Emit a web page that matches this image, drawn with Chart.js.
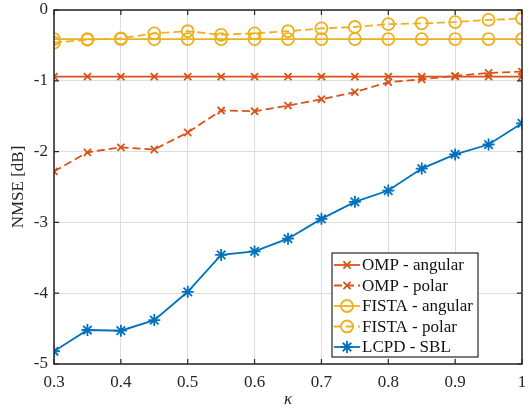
<!DOCTYPE html>
<html>
<head>
<meta charset="utf-8">
<script src="https://cdn.jsdelivr.net/npm/chart.js@4.4.1/dist/chart.umd.min.js"></script>
<style>
  html, body { margin: 0; padding: 0; background: #fff; }
</style>
</head>
<body>
<canvas id="nmseChart" width="530" height="411"></canvas>
<script>
// *data
const kappa = [0.3, 0.35, 0.4, 0.45, 0.5, 0.55, 0.6, 0.65, 0.7, 0.75, 0.8, 0.85, 0.9, 0.95, 1];
const ompAngular = [-0.94, -0.94, -0.94, -0.94, -0.94, -0.94, -0.94, -0.94, -0.94, -0.94, -0.94, -0.94, -0.94, -0.94, -0.94];
const ompPolar = [-2.28, -2.01, -1.94, -1.97, -1.73, -1.42, -1.43, -1.35, -1.26, -1.16, -1.02, -0.98, -0.93, -0.89, -0.87];
const fistaAngular = [-0.41, -0.41, -0.41, -0.41, -0.41, -0.41, -0.41, -0.41, -0.41, -0.41, -0.41, -0.41, -0.41, -0.41, -0.41];
const fistaPolar = [-0.46, -0.42, -0.40, -0.33, -0.30, -0.35, -0.33, -0.30, -0.26, -0.24, -0.20, -0.19, -0.17, -0.14, -0.12];
const lcpdSbl = [-4.82, -4.52, -4.53, -4.38, -3.98, -3.46, -3.41, -3.23, -2.95, -2.71, -2.55, -2.24, -2.04, -1.90, -1.60];
const xTicks = [0.3, 0.4, 0.5, 0.6, 0.7, 0.8, 0.9, 1];
const yTicks = [-5, -4, -3, -2, -1, 0];

const RED = "#D95319";
const YELLOW = "#EDB120";
const BLUE = "#0072BD";
const FONT = "'Liberation Serif', 'Times New Roman', serif";

function toPoints(values) {
  return kappa.map((k, i) => ({ x: k, y: values[i] }));
}

function series(label, values, color, style, radius, dashed) {
  return {
    label: label,
    data: toPoints(values),
    borderColor: color,
    backgroundColor: color,
    borderWidth: 1.8,
    borderDash: dashed ? [8, 4] : [],
    pointStyle: style,
    pointRadius: radius,
    pointBorderWidth: 1.8,
    pointBorderColor: color,
    pointBackgroundColor: style === "circle" ? "rgba(0,0,0,0)" : color,
    tension: 0,
    fill: false,
  };
}

// frame + inward ticks like matlab
const frameTicks = {
  id: "frameTicks",
  afterDatasetsDraw(chart) {
    const { ctx, chartArea: a, scales } = chart;
    ctx.save();
    ctx.strokeStyle = "#262626";
    ctx.lineWidth = 1.5;
    ctx.strokeRect(a.left, a.top, a.right - a.left, a.bottom - a.top);
    ctx.lineWidth = 1.2;
    ctx.beginPath();
    xTicks.forEach((t) => {
      const px = scales.x.getPixelForValue(t);
      ctx.moveTo(px, a.bottom); ctx.lineTo(px, a.bottom - 5);
      ctx.moveTo(px, a.top); ctx.lineTo(px, a.top + 5);
    });
    yTicks.forEach((t) => {
      const py = scales.y.getPixelForValue(t);
      ctx.moveTo(a.left, py); ctx.lineTo(a.left + 5, py);
      ctx.moveTo(a.right, py); ctx.lineTo(a.right - 5, py);
    });
    ctx.stroke();
    ctx.restore();
  },
};

// legend inside the plot, bottom right
const insideLegend = {
  id: "insideLegend",
  afterDraw(chart) {
    const { ctx, chartArea: a } = chart;
    const w = 146, h = 104, rowH = 20.5;
    const x0 = a.right - 44 - w;
    const y0 = a.bottom - 7 - h;
    ctx.save();
    ctx.fillStyle = "#fff";
    ctx.fillRect(x0, y0, w, h);
    ctx.strokeStyle = "#262626";
    ctx.lineWidth = 1.2;
    ctx.strokeRect(x0, y0, w, h);
    ctx.font = "17px " + FONT;
    ctx.textBaseline = "middle";
    chart.data.datasets.forEach((ds, i) => {
      const cy = y0 + 12 + i * rowH;
      ctx.strokeStyle = ds.borderColor;
      ctx.lineWidth = ds.borderWidth;
      ctx.setLineDash(ds.borderDash);
      ctx.beginPath();
      ctx.moveTo(x0 + 2, cy);
      ctx.lineTo(x0 + 28, cy);
      ctx.stroke();
      ctx.setLineDash([]);
      ctx.fillStyle = ds.pointBackgroundColor;
      Chart.helpers.drawPoint(ctx, {
        pointStyle: ds.pointStyle,
        radius: ds.pointRadius,
        rotation: 0,
        borderWidth: ds.pointBorderWidth,
      }, x0 + 15, cy);
      ctx.fillStyle = "#111";
      ctx.fillText(ds.label, x0 + 30, cy + 1);
    });
    ctx.restore();
  },
};

new Chart(document.getElementById("nmseChart"), {
  type: "line",
  data: {
    datasets: [
      series("OMP - angular", ompAngular, RED, "crossRot", 5, false),
      series("OMP - polar", ompPolar, RED, "crossRot", 5, true),
      series("FISTA - angular", fistaAngular, YELLOW, "circle", 6, false),
      series("FISTA - polar", fistaPolar, YELLOW, "circle", 6, true),
      series("LCPD - SBL", lcpdSbl, BLUE, "star", 6, false),
    ],
  },
  options: {
    responsive: false,
    animation: false,
    devicePixelRatio: 1,
    layout: { padding: { top: 10, right: 8, left: 0, bottom: 0 } },
    plugins: {
      legend: { display: false },
      tooltip: { enabled: false },
    },
    scales: {
      x: {
        type: "linear",
        min: 0.3,
        max: 1,
        afterBuildTicks(scale) { scale.ticks = xTicks.map((v) => ({ value: v })); },
        afterFit(scale) {
          scale.height = 47;
          scale.paddingLeft = 0;
          scale.paddingRight = 0;
        },
        grid: { color: "#dedede", lineWidth: 1, drawTicks: false },
        border: { display: false },
        ticks: {
          color: "#262626",
          padding: 8,
          maxRotation: 0,
          font: { family: FONT, size: 17 },
          callback: (v) => String(v),
        },
        title: {
          display: true,
          text: "κ",
          color: "#262626",
          padding: { top: 0, bottom: 1 },
          font: { family: FONT, size: 17, style: "italic" },
        },
      },
      y: {
        min: -5,
        max: 0,
        afterBuildTicks(scale) { scale.ticks = yTicks.map((v) => ({ value: v })); },
        afterFit(scale) {
          scale.width = 54;
          scale.paddingTop = 0;
          scale.paddingBottom = 0;
        },
        grid: { color: "#dedede", lineWidth: 1, drawTicks: false },
        border: { display: false },
        ticks: {
          color: "#262626",
          padding: 6,
          font: { family: FONT, size: 17 },
          callback: (v) => String(v),
        },
        title: {
          display: true,
          text: "NMSE [dB]",
          color: "#262626",
          padding: { top: 8, bottom: 2 },
          font: { family: FONT, size: 17 },
        },
      },
    },
  },
  plugins: [frameTicks, insideLegend],
});
</script>
</body>
</html>
